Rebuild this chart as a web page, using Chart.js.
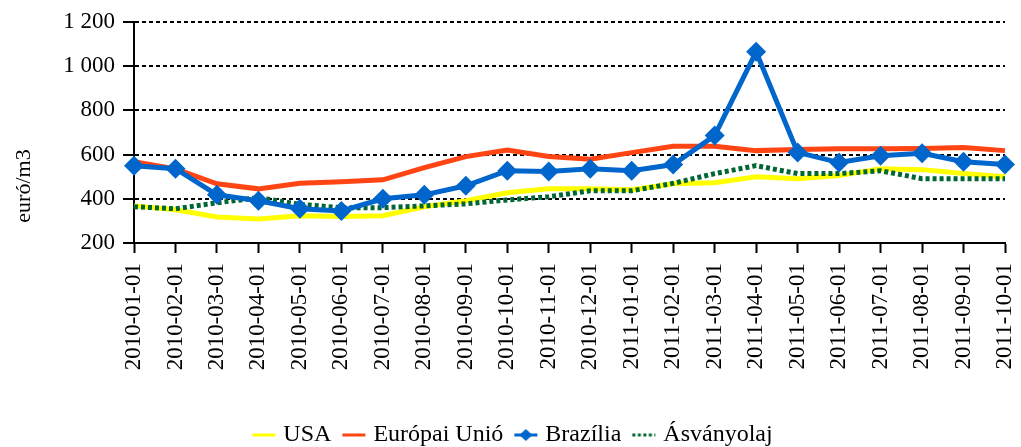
<!DOCTYPE html>
<html lang="hu">

<head>
  <meta charset="UTF-8">
  <title>euró/m3</title>
  <script src="https://cdn.jsdelivr.net/npm/chart.js"></script>
  <style>
    html, body { margin: 0; padding: 0; background: #fff; }
    #grafikon_div { width: 1021px; height: 447px; }
  </style>
</head>

<body>
  <div id="grafikon_div">
    <canvas id="grafikon"></canvas>
  </div>
</body>

</html>
<script>
  // Months on the x axis
  var honapok = ['2010-01-01', '2010-02-01', '2010-03-01', '2010-04-01', '2010-05-01', '2010-06-01',
    '2010-07-01', '2010-08-01', '2010-09-01', '2010-10-01', '2010-11-01', '2010-12-01',
    '2011-01-01', '2011-02-01', '2011-03-01', '2011-04-01', '2011-05-01', '2011-06-01',
    '2011-07-01', '2011-08-01', '2011-09-01', '2011-10-01'];

  // Series values (euró/m3)
  var usa = [368, 350, 318, 309, 323, 320, 323, 364, 391, 427, 445, 445,
    441, 468, 473, 500, 491, 505, 536, 532, 514, 500];
  var eu = [568, 535, 468, 445, 470, 477, 486, 541, 591, 621, 591, 579,
    609, 638, 638, 618, 623, 627, 627, 628, 632, 618];
  var brazilia = [550, 536, 418, 391, 355, 345, 400, 418, 459, 527, 523, 536,
    527, 555, 686, 1065, 610, 564, 595, 606, 568, 555];
  var asvanyolaj = [364, 355, 382, 405, 375, 360, 360, 368, 377, 395, 409, 436,
    436, 470, 514, 550, 514, 514, 527, 491, 491, 491];

  var yTicks = [200, 400, 600, 800, 1000, 1200];

  var betu = 'Liberation Serif';

  // small canvas used as the legend symbol (line drawn left of centre)
  function jel(szin, szaggatott, rombusz) {
    var c = document.createElement('canvas');
    c.width = 46;
    c.height = 16;
    var g = c.getContext('2d');
    g.strokeStyle = szin;
    g.lineWidth = 3;
    if (szaggatott) g.setLineDash([3, 2.5]);
    g.beginPath();
    g.moveTo(13, 8);
    g.lineTo(36, 8);
    g.stroke();
    if (rombusz) {
      g.fillStyle = szin;
      g.beginPath();
      g.moveTo(24.5, 2);
      g.lineTo(31, 8);
      g.lineTo(24.5, 14);
      g.lineTo(18, 8);
      g.closePath();
      g.fill();
    }
    return c;
  }

  // y axis title, drawn lower than the axis centre like in the original
  var tengelyCim = {
    id: 'tengelyCim',
    afterDraw: function (chart) {
      var c = chart.ctx;
      c.save();
      c.translate(24, 186);
      c.rotate(-Math.PI / 2);
      c.fillStyle = '#000';
      c.font = '22px "' + betu + '"';
      c.textAlign = 'center';
      c.textBaseline = 'middle';
      c.fillText('euró/m3', 0, 0);
      c.restore();
    }
  };

  var ctx = document.getElementById('grafikon').getContext('2d');
  var myChart = new Chart(ctx, {
    type: 'line',
    data: {
      labels: honapok,
      datasets: [{
        label: 'USA',
        data: usa,
        borderColor: '#FFFF00',
        backgroundColor: '#FFFF00',
        borderWidth: 5,
        pointRadius: 0,
        order: 3,
        jel: jel('#FFFF00', false, false)
      }, {
        label: 'Európai Unió',
        data: eu,
        borderColor: '#FF4513',
        backgroundColor: '#FF4513',
        borderWidth: 5,
        pointRadius: 0,
        order: 2,
        jel: jel('#FF4513', false, false)
      }, {
        label: 'Brazília',
        data: brazilia,
        borderColor: '#0066CC',
        backgroundColor: '#0066CC',
        borderWidth: 5,
        pointStyle: 'rectRot',
        pointRadius: 10,
        pointBorderWidth: 0,
        order: 0,
        jel: jel('#0066CC', false, true)
      }, {
        label: 'Ásványolaj',
        data: asvanyolaj,
        borderColor: '#006633',
        backgroundColor: '#006633',
        borderWidth: 5,
        borderDash: [4, 3],
        pointRadius: 0,
        order: 1,
        jel: jel('#006633', true, false)
      }]
    },
    options: {
      responsive: true,
      maintainAspectRatio: false,
      animation: false,
      layout: { padding: { top: 22, right: 0, left: 5, bottom: -10 } },
      plugins: {
        tooltip: { enabled: false },
        legend: {
          position: 'bottom',
          labels: {
            usePointStyle: true,
            pointStyleWidth: 18,
            padding: 12,
            color: '#000',
            font: { family: betu, size: 24 },
            generateLabels: function (chart) {
              return chart.data.datasets.map(function (ds, i) {
                return {
                  text: ds.label,
                  pointStyle: ds.jel,
                  fillStyle: ds.borderColor,
                  strokeStyle: ds.borderColor,
                  lineWidth: 0,
                  hidden: false,
                  datasetIndex: i,
                  fontColor: '#000'
                };
              });
            }
          }
        }
      },
      scales: {
        x: {
          offset: false,
          grid: { drawOnChartArea: false, drawTicks: true, tickLength: 10, tickColor: '#000', tickWidth: 2 },
          border: { color: '#000', width: 2 },
          ticks: {
            color: '#000',
            font: { family: betu, size: 23 },
            minRotation: 90,
            maxRotation: 90,
            autoSkip: false,
            padding: 10
          },
          afterFit: function (scale) {
            scale.height = 168;
            scale.paddingLeft = 0;
            scale.paddingRight = 16;
          }
        },
        y: {
          min: 200,
          max: 1200,
          afterBuildTicks: function (scale) {
            scale.ticks = yTicks.map(function (v) { return { value: v }; });
          },
          grid: { color: '#000', lineWidth: 2, tickLength: 11, tickColor: '#000', tickWidth: 2, tickBorderDash: [] },
          border: { color: '#000', width: 2, dash: [4, 3] },
          ticks: {
            color: '#000',
            font: { family: betu, size: 23 },
            padding: 8,
            callback: function (v) {
              return String(v).replace(/\B(?=(\d{3})+(?!\d))/g, ' ');
            }
          },
          afterFit: function (scale) {
            scale.width = 129;
            scale.paddingTop = 0;
            scale.paddingBottom = 0;
          }
        }
      }
    },
    plugins: [tengelyCim]
  });
</script>
